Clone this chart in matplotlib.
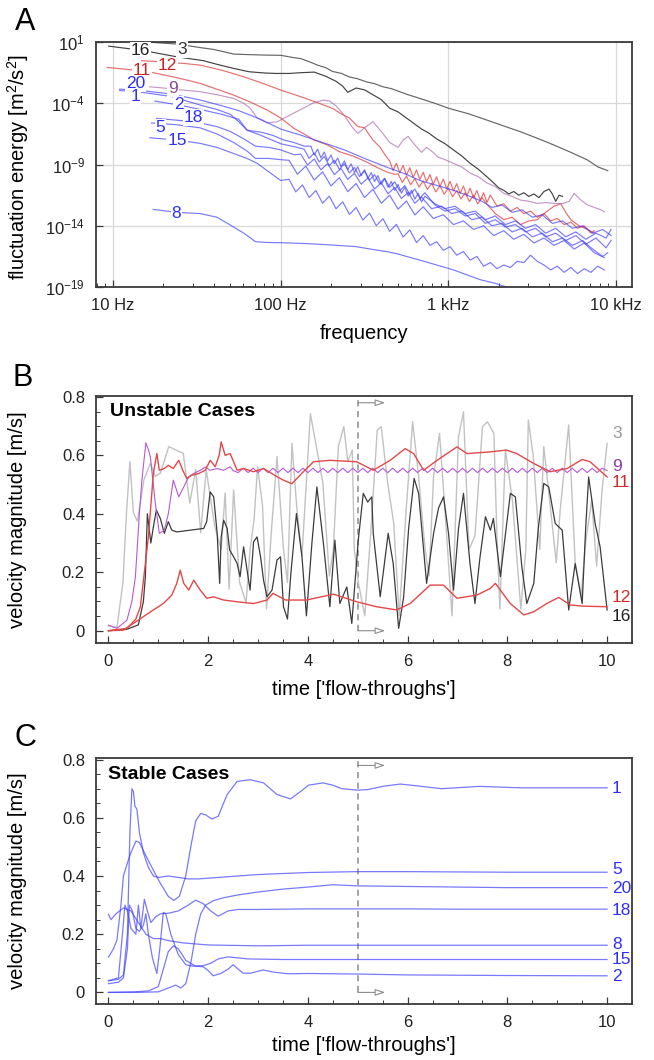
import matplotlib
matplotlib.use('Agg')
import matplotlib.pyplot as plt
from matplotlib.ticker import NullLocator, NullFormatter, LogLocator, MultipleLocator
import numpy as np

plt.rcParams['font.family'] = ['Liberation Sans', 'DejaVu Sans']
plt.rcParams['mathtext.default'] = 'regular'

# ---------------- panel A : spectra  (log10 f [Hz], log10 E) ----------------
a3 = [(1.24, 0.97), (1.38, 0.84), (1.45, 0.70), (1.52, 0.55), (1.60, 0.40), (1.68, 0.15), (1.72, 0.02),
      (1.80, -0.02), (1.90, -0.06), (2.00, -0.08), (2.07, -0.25), (2.12, -0.35), (2.17, -0.60), (2.22, -0.88),
      (2.27, -1.10), (2.31, -1.40), (2.36, -1.55), (2.41, -1.85), (2.46, -2.00), (2.51, -2.24), (2.56, -2.40),
      (2.61, -2.65), (2.66, -2.80), (2.71, -3.05), (2.76, -3.30), (2.83, -3.60), (2.92, -4.00), (3.00, -4.40),
      (3.12, -4.85), (3.23, -5.37), (3.33, -5.85), (3.43, -6.32), (3.53, -6.85), (3.63, -7.41), (3.73, -8.00),
      (3.83, -8.63), (3.89, -9.18), (3.95, -9.50)]
a16 = [(0.975, 0.67), (1.10, 0.45), (1.22, 0.21), (1.38, -0.20), (1.54, -0.52), (1.63, -0.85), (1.72, -1.15),
       (1.81, -1.42), (1.90, -1.52), (1.97, -1.56), (2.05, -1.56), (2.12, -1.50), (2.20, -1.45), (2.27, -1.80),
       (2.33, -2.20), (2.37, -2.60), (2.40, -3.10), (2.45, -2.75), (2.50, -2.90), (2.55, -3.30), (2.60, -3.70),
       (2.65, -4.40), (2.70, -4.70), (2.75, -5.20), (2.80, -5.70), (2.84, -6.10), (2.88, -6.40), (2.93, -6.90),
       (2.98, -7.30), (3.03, -7.80), (3.08, -8.30), (3.13, -8.90), (3.18, -9.40), (3.23, -10.00), (3.27, -10.50),
       (3.30, -10.90), (3.33, -11.10), (3.36, -11.40), (3.39, -11.20), (3.42, -11.50), (3.45, -11.30),
       (3.48, -11.60), (3.51, -11.40), (3.54, -11.70), (3.57, -11.20), (3.60, -11.00), (3.62, -11.40),
       (3.64, -12.00), (3.66, -11.50), (3.68, -11.60)]
a12 = [(1.17, -0.52), (1.30, -0.62), (1.42, -0.74), (1.52, -0.88), (1.65, -1.30), (1.78, -1.83), (1.90, -2.40),
       (2.00, -2.92), (2.12, -3.46), (2.22, -3.95), (2.31, -4.42), (2.36, -4.85), (2.41, -5.20), (2.46, -5.90),
       (2.50, -6.00), (2.55, -7.00), (2.59, -7.54), (2.63, -8.36),
       (2.65, -8.70), (2.67, -9.49), (2.69, -8.89), (2.71, -9.68), (2.73, -9.07), (2.75, -9.86), (2.77, -9.26),
       (2.79, -10.05), (2.81, -9.44), (2.83, -10.23), (2.85, -9.63), (2.87, -10.42), (2.89, -9.81), (2.91, -10.61),
       (2.93, -10.00), (2.95, -10.79), (2.97, -10.19), (2.99, -10.98), (3.01, -10.37), (3.03, -11.16),
       (3.05, -10.56), (3.07, -11.35), (3.09, -10.75), (3.11, -11.54), (3.13, -10.93), (3.15, -11.72),
       (3.17, -11.12), (3.19, -11.91), (3.21, -11.30), (3.23, -12.09), (3.25, -11.49),
       (3.29, -12.4), (3.33, -12.2), (3.37, -12.8), (3.41, -12.5), (3.45, -13.0), (3.49, -12.8), (3.53, -13.3),
       (3.57, -13.0), (3.61, -13.6), (3.65, -13.4), (3.69, -13.9), (3.73, -13.7), (3.77, -14.2), (3.81, -14.0),
       (3.85, -14.6), (3.87, -14.4)]
a11 = [(0.965, -1.07), (1.10, -1.25), (1.24, -1.50), (1.38, -1.90), (1.52, -2.37), (1.62, -2.85), (1.72, -3.33),
       (1.82, -3.90), (1.92, -4.55), (2.00, -5.20), (2.08, -6.05), (2.14, -6.50), (2.20, -7.00), (2.28, -7.40),
       (2.35, -7.95), (2.43, -8.30), (2.51, -8.77), (2.57, -9.20), (2.63, -9.59), (2.68, -9.80),
       (2.70, -9.75), (2.725, -10.45), (2.75, -9.95), (2.775, -10.64), (2.80, -10.14), (2.825, -10.84),
       (2.85, -10.34), (2.875, -11.03), (2.90, -10.53), (2.925, -11.23), (2.95, -10.73), (2.975, -11.42),
       (3.00, -10.92), (3.025, -11.62), (3.05, -11.12), (3.075, -11.81), (3.10, -11.31), (3.125, -12.01),
       (3.15, -11.51), (3.175, -12.20), (3.20, -11.70),
       (3.24, -12.4), (3.28, -13.0), (3.33, -13.5), (3.38, -13.3), (3.43, -13.9), (3.48, -13.6), (3.53, -13.5),
       (3.58, -12.9), (3.63, -12.4), (3.67, -12.2), (3.70, -12.9), (3.73, -13.5), (3.78, -14.0), (3.83, -14.3),
       (3.87, -14.6)]
a9 = [(1.22, -2.65), (1.30, -2.75), (1.42, -2.92), (1.52, -3.05), (1.62, -3.30), (1.72, -3.60), (1.78, -4.00),
      (1.82, -4.42), (1.86, -5.20), (1.92, -5.60), (1.98, -5.50), (2.05, -5.00), (2.12, -4.50), (2.19, -4.00),
      (2.25, -3.75), (2.29, -3.80), (2.33, -4.20), (2.38, -5.00), (2.43, -6.00), (2.46, -6.45), (2.50, -6.00),
      (2.55, -5.50), (2.60, -6.30), (2.65, -7.20), (2.70, -7.60), (2.73, -7.00), (2.76, -6.70), (2.80, -7.40),
      (2.84, -8.00), (2.87, -7.60), (2.90, -7.90), (2.94, -8.40), (2.98, -8.60), (3.03, -8.90), (3.08, -9.20),
      (3.13, -9.70), (3.18, -10.00), (3.23, -10.50), (3.28, -10.80), (3.33, -11.35), (3.38, -11.60),
      (3.43, -11.90), (3.48, -12.00), (3.53, -12.17), (3.58, -12.10), (3.63, -12.17), (3.68, -12.20),
      (3.72, -12.00), (3.75, -11.35), (3.79, -11.90), (3.83, -12.30), (3.87, -12.50), (3.91, -12.70), (3.93, -12.85)]
a20 = [(1.04, -2.84), (1.20, -3.00), (1.35, -3.25), (1.52, -3.73), (1.65, -4.20), (1.75, -4.60), (1.88, -5.30),
       (2.00, -6.10), (2.12, -6.60), (2.25, -7.20), (2.38, -7.80), (2.50, -8.50), (2.63, -9.20), (2.75, -9.80),
       (2.83, -10.30), (2.93, -10.70), (3.03, -11.10), (3.13, -11.60), (3.20, -12.00), (3.26, -12.50),
       (3.32, -12.30), (3.38, -12.90), (3.44, -12.70), (3.50, -13.30), (3.56, -13.10), (3.62, -13.80),
       (3.68, -13.60), (3.74, -14.20), (3.80, -14.00), (3.86, -14.60), (3.92, -14.30), (3.97, -14.80)]
a1 = [(1.04, -2.95), (1.20, -3.15), (1.35, -3.45), (1.52, -4.14), (1.62, -4.50), (1.70, -4.90), (1.75, -5.50),
      (1.80, -6.20), (1.88, -6.35), (1.95, -6.60), (2.02, -7.00), (2.08, -7.20), (2.14, -7.50),
      (2.18, -7.50), (2.20, -8.22), (2.22, -7.74), (2.24, -8.46), (2.26, -7.98), (2.28, -8.70), (2.30, -8.22),
      (2.32, -8.94), (2.34, -8.46), (2.36, -9.18), (2.38, -8.70), (2.40, -9.42), (2.42, -8.94), (2.44, -9.66),
      (2.46, -9.18), (2.48, -9.90), (2.50, -9.42), (2.52, -10.14), (2.54, -9.66), (2.56, -10.38), (2.58, -9.90),
      (2.60, -10.62), (2.62, -10.14), (2.64, -10.86), (2.66, -10.38), (2.68, -11.10), (2.70, -10.62),
      (2.72, -11.34), (2.74, -10.86), (2.76, -11.58), (2.78, -11.10), (2.80, -11.82), (2.82, -11.34),
      (2.84, -12.06), (2.86, -11.58),
      (2.92, -12.2), (2.98, -12.6), (3.04, -12.4), (3.10, -13.0), (3.16, -12.8), (3.22, -13.5), (3.28, -13.2),
      (3.34, -13.9), (3.40, -13.6), (3.46, -14.2), (3.52, -13.9), (3.58, -14.6), (3.64, -14.2), (3.70, -14.9),
      (3.76, -14.5), (3.82, -15.1), (3.88, -14.6), (3.94, -15.0), (3.97, -14.3)]
a2 = [(1.25, -3.82), (1.40, -4.15), (1.52, -4.50), (1.65, -4.90), (1.75, -5.30), (1.80, -6.20), (1.88, -6.60),
      (2.00, -7.30), (2.10, -7.60),
      (2.14, -7.75), (2.17, -8.50), (2.20, -8.05), (2.23, -8.79), (2.26, -8.34), (2.29, -9.09), (2.32, -8.64),
      (2.35, -9.39), (2.38, -8.93), (2.41, -9.68), (2.44, -9.23), (2.47, -9.98), (2.50, -9.53), (2.53, -10.27),
      (2.56, -9.82), (2.59, -10.57), (2.62, -10.12), (2.65, -10.86), (2.68, -10.41), (2.71, -11.16),
      (2.74, -10.71), (2.77, -11.45), (2.80, -11.00), (2.83, -11.75), (2.86, -11.30),
      (2.92, -12.3), (2.98, -12.8), (3.04, -12.6), (3.10, -13.2), (3.16, -13.0), (3.22, -13.8), (3.28, -13.5),
      (3.34, -14.1), (3.40, -13.9), (3.46, -14.5), (3.52, -14.2), (3.58, -14.9), (3.64, -14.6), (3.70, -15.2),
      (3.76, -14.8), (3.82, -15.5), (3.88, -15.0), (3.94, -15.8), (3.97, -15.2)]
a18 = [(1.26, -5.23), (1.40, -5.40), (1.52, -5.60), (1.62, -5.90), (1.70, -6.30), (1.78, -6.90), (1.85, -7.50),
       (1.93, -7.60), (2.00, -7.80), (2.08, -8.20),
       (2.12, -8.15), (2.16, -9.04), (2.20, -8.54), (2.24, -9.43), (2.28, -8.93), (2.32, -9.82), (2.36, -9.32),
       (2.40, -10.21), (2.44, -9.71), (2.48, -10.60), (2.52, -10.10), (2.56, -10.99), (2.60, -10.49),
       (2.64, -11.38), (2.68, -10.88), (2.72, -11.77), (2.76, -11.27), (2.80, -12.16), (2.84, -11.66),
       (2.90, -12.6), (2.96, -12.4), (3.02, -13.0), (3.08, -12.8), (3.14, -13.5), (3.20, -13.3), (3.26, -14.0),
       (3.32, -13.8), (3.38, -14.5), (3.44, -14.2), (3.50, -14.9), (3.56, -14.6), (3.62, -15.3), (3.68, -15.0),
       (3.74, -15.6), (3.80, -15.2), (3.86, -15.9), (3.92, -16.5), (3.95, -16.2)]
a5 = [(1.23, -5.60), (1.38, -5.75), (1.52, -6.00), (1.62, -6.50), (1.72, -7.20), (1.80, -7.90), (1.85, -8.50),
      (1.93, -8.50), (2.00, -8.60),
      (2.05, -8.65), (2.10, -9.79), (2.15, -9.12), (2.20, -10.26), (2.25, -9.60), (2.30, -10.74), (2.35, -10.07),
      (2.40, -11.21), (2.45, -10.55), (2.50, -11.69), (2.55, -11.02), (2.60, -12.16), (2.65, -11.50),
      (2.70, -12.64), (2.75, -11.97), (2.80, -13.11), (2.85, -12.45),
      (2.91, -13.4), (2.97, -13.1), (3.03, -13.9), (3.09, -13.6), (3.15, -14.3), (3.21, -14.0), (3.27, -14.8),
      (3.33, -14.4), (3.39, -15.1), (3.45, -14.7), (3.51, -15.4), (3.57, -15.0), (3.63, -15.6), (3.69, -15.2),
      (3.75, -15.9), (3.81, -15.4), (3.87, -16.2), (3.93, -16.6)]
a15 = [(1.22, -6.81), (1.38, -7.00), (1.52, -7.27), (1.62, -7.60), (1.72, -8.10), (1.80, -8.50), (1.86, -8.90),
       (1.93, -9.60), (2.00, -10.30),
       (2.05, -10.20), (2.09, -11.23), (2.13, -10.66), (2.17, -11.69), (2.21, -11.12), (2.25, -12.15),
       (2.29, -11.58), (2.33, -12.61), (2.37, -12.04), (2.41, -13.07), (2.45, -12.50), (2.49, -13.53),
       (2.53, -12.96), (2.57, -13.99), (2.61, -13.42), (2.65, -14.45), (2.69, -13.88), (2.73, -14.91),
       (2.77, -14.34), (2.81, -15.37), (2.85, -14.80),
       (2.89, -15.6), (2.93, -15.3), (2.97, -16.0), (3.01, -15.7), (3.05, -16.4), (3.09, -16.1), (3.13, -16.8),
       (3.17, -16.5), (3.21, -17.3), (3.25, -17.0), (3.29, -17.5), (3.33, -17.2), (3.37, -17.4), (3.41, -16.9),
       (3.45, -17.0), (3.49, -16.4), (3.53, -16.9), (3.57, -17.2), (3.61, -17.6), (3.65, -17.3), (3.69, -17.8),
       (3.73, -17.4), (3.77, -17.9), (3.81, -17.5), (3.85, -17.8), (3.89, -17.3), (3.93, -17.6)]
a8 = [(1.24, -12.66), (1.38, -12.90), (1.52, -13.00), (1.62, -13.30), (1.70, -13.94), (1.78, -14.60),
      (1.85, -15.30), (1.92, -15.36), (2.00, -15.38), (2.15, -15.45), (2.31, -15.57), (2.45, -15.70),
      (2.51, -15.84), (2.58, -16.00), (2.63, -16.10), (2.70, -16.30), (2.75, -16.50), (2.83, -16.80),
      (2.93, -17.20), (3.03, -17.60), (3.11, -18.00), (3.19, -18.40), (3.28, -18.70), (3.37, -19.10)]

# label positions (log10 f, log10 E)
a_labels = [('16', 1.164, 0.35), ('3', 1.412, 0.40), ('12', 1.323, -0.88), ('11', 1.174, -1.29),
            ('20', 1.134, -2.37), ('9', 1.358, -2.78), ('1', 1.134, -3.46), ('2', 1.392, -4.06),
            ('18', 1.482, -5.18), ('5', 1.283, -5.97), ('15', 1.382, -7.0), ('8', 1.378, -13.0)]

# ---------------- panel B : unstable cases (time, velocity) ----------------
b3 = [(0, 0.017), (0.17, 0.011), (0.29, 0.165), (0.36, 0.40), (0.43, 0.579), (0.5, 0.403), (0.58, 0.375),
      (0.71, 0.516), (0.84, 0.573), (0.94, 0.528), (1.04, 0.539), (1.21, 0.63), (1.34, 0.619), (1.5, 0.607),
      (1.63, 0.437), (1.75, 0.551), (1.85, 0.335), (1.96, 0.551), (2.13, 0.358), (2.26, 0.278), (2.34, 0.471),
      (2.42, 0.142), (2.51, 0.482), (2.63, 0.165), (2.76, 0.096), (2.84, 0.278), (2.92, 0.38), (2.99, 0.562),
      (3.09, 0.426), (3.17, 0.074), (3.26, 0.324), (3.38, 0.596), (3.51, 0.278), (3.59, 0.165), (3.68, 0.641),
      (3.78, 0.414), (3.88, 0.255), (4.05, 0.743), (4.18, 0.619), (4.3, 0.505), (4.43, 0.187), (4.51, 0.278),
      (4.61, 0.63), (4.72, 0.698), (4.8, 0.579), (4.89, 0.619), (4.93, 0.278), (5.01, 0.165), (5.14, 0.051),
      (5.26, 0.335), (5.39, 0.687), (5.47, 0.698), (5.6, 0.505), (5.72, 0.369), (5.83, 0.051), (5.97, 0.414),
      (6.1, 0.715), (6.22, 0.528), (6.35, 0.278), (6.43, 0.187), (6.52, 0.528), (6.64, 0.675), (6.77, 0.358),
      (6.89, 0.051), (7.02, 0.664), (7.12, 0.749), (7.23, 0.278), (7.35, 0.324), (7.5, 0.698), (7.6, 0.715),
      (7.73, 0.675), (7.79, 0.324), (7.85, 0.074), (7.96, 0.619), (8.1, 0.448), (8.27, 0.074), (8.37, 0.278),
      (8.42, 0.721), (8.52, 0.596), (8.65, 0.278), (8.73, 0.63), (8.86, 0.426), (8.98, 0.233), (9.06, 0.414),
      (9.23, 0.704), (9.36, 0.233), (9.48, 0.119), (9.57, 0.301), (9.69, 0.448), (9.79, 0.221), (9.9, 0.482),
      (10.0, 0.641)]
b16 = [(0, 0.0), (0.37, 0.005), (0.6, 0.02), (0.7, 0.1), (0.74, 0.185), (0.78, 0.40), (0.85, 0.30), (0.9, 0.355),
       (0.96, 0.413), (1.04, 0.384), (1.12, 0.333), (1.2, 0.373), (1.27, 0.344), (1.37, 0.338), (1.64, 0.344),
       (1.91, 0.35), (1.97, 0.373), (2.04, 0.475), (2.11, 0.458), (2.18, 0.333), (2.23, 0.162), (2.26, 0.321),
       (2.31, 0.378), (2.38, 0.35), (2.43, 0.276), (2.51, 0.253), (2.58, 0.23), (2.64, 0.185), (2.71, 0.287),
       (2.78, 0.207), (2.84, 0.139), (2.91, 0.304), (2.98, 0.321), (3.05, 0.253), (3.11, 0.173), (3.18, 0.116),
       (3.28, 0.139), (3.38, 0.242), (3.45, 0.253), (3.51, 0.082), (3.59, 0.04), (3.66, 0.2), (3.77, 0.401),
       (3.88, 0.255), (3.97, 0.051), (4.08, 0.3), (4.18, 0.492), (4.31, 0.3), (4.44, 0.082), (4.54, 0.31),
       (4.64, 0.093), (4.78, 0.15), (4.88, 0.025), (5.01, 0.31), (5.11, 0.47), (5.2, 0.44), (5.28, 0.458),
       (5.31, 0.333), (5.45, 0.116), (5.61, 0.333), (5.71, 0.23), (5.82, 0.008), (5.92, 0.116), (6.02, 0.35),
       (6.13, 0.521), (6.22, 0.47), (6.38, 0.162), (6.52, 0.333), (6.62, 0.42), (6.72, 0.458), (6.82, 0.333),
       (6.92, 0.139), (7.02, 0.35), (7.12, 0.47), (7.25, 0.23), (7.35, 0.093), (7.45, 0.25), (7.56, 0.39),
       (7.66, 0.344), (7.72, 0.384), (7.86, 0.185), (7.94, 0.3), (8.06, 0.47), (8.16, 0.458), (8.29, 0.219),
       (8.39, 0.093), (8.53, 0.162), (8.62, 0.35), (8.73, 0.504), (8.83, 0.492), (8.96, 0.367), (9.1, 0.344),
       (9.23, 0.071), (9.36, 0.23), (9.5, 0.093), (9.57, 0.35), (9.63, 0.526), (9.76, 0.367), (9.86, 0.287),
       (10.0, 0.071)]
b9_start = [(0, 0.019), (0.17, 0.008), (0.37, 0.036), (0.47, 0.1), (0.54, 0.185), (0.62, 0.4), (0.67, 0.515),
            (0.75, 0.643), (0.8, 0.62), (0.84, 0.595), (0.94, 0.435), (1.02, 0.333), (1.12, 0.344), (1.2, 0.40),
            (1.3, 0.515), (1.41, 0.458), (1.51, 0.492), (1.61, 0.527), (1.71, 0.538), (1.84, 0.549),
            (1.94, 0.56), (2.04, 0.549), (2.18, 0.555), (2.31, 0.549), (2.44, 0.561)]
b9_wave_t = np.round(np.arange(2.5, 10.05, 0.1), 2)
b9_wave_v = [0.548, 0.541, 0.556, 0.541, 0.556, 0.541, 0.556, 0.541, 0.556, 0.541,
             0.556, 0.541, 0.556, 0.541, 0.556, 0.541, 0.556, 0.541, 0.556, 0.541,
             0.556, 0.541, 0.556, 0.541, 0.556, 0.541, 0.556, 0.541, 0.556, 0.541,
             0.556, 0.541, 0.556, 0.541, 0.556, 0.541, 0.556, 0.541, 0.556, 0.541,
             0.556, 0.541, 0.556, 0.541, 0.556, 0.541, 0.556, 0.541, 0.556, 0.541,
             0.556, 0.541, 0.556, 0.541, 0.556, 0.541, 0.556, 0.541, 0.556, 0.541,
             0.556, 0.541, 0.556, 0.541, 0.556, 0.541, 0.556, 0.541, 0.556, 0.541,
             0.556, 0.541, 0.556, 0.541, 0.556, 0.548]
b11 = [(0, 0.0), (0.37, 0.008), (0.55, 0.04), (0.64, 0.082), (0.72, 0.2), (0.8, 0.321), (0.86, 0.45), (0.9, 0.538),
       (0.97, 0.606), (1.02, 0.549), (1.12, 0.555), (1.2, 0.566), (1.3, 0.555), (1.41, 0.583), (1.49, 0.549),
       (1.57, 0.521), (1.67, 0.532), (1.81, 0.538), (1.94, 0.549), (2.04, 0.583), (2.14, 0.561), (2.22, 0.6),
       (2.26, 0.646), (2.34, 0.60), (2.44, 0.606), (2.51, 0.578), (2.58, 0.549), (2.71, 0.555), (2.91, 0.544),
       (3.11, 0.555), (3.38, 0.527), (3.51, 0.515), (3.68, 0.503), (3.84, 0.532), (4.11, 0.578), (4.44, 0.583),
       (4.98, 0.578), (5.31, 0.549), (5.65, 0.583), (5.95, 0.623), (6.12, 0.606), (6.32, 0.549), (6.59, 0.583),
       (6.99, 0.629), (7.19, 0.606), (7.66, 0.612), (7.98, 0.618), (8.19, 0.606), (8.53, 0.572), (8.86, 0.544),
       (9.2, 0.555), (9.5, 0.586), (9.66, 0.578), (10.0, 0.526)]
b12 = [(0, 0.0), (0.3, 0.002), (0.5, 0.025), (0.7, 0.048), (0.9, 0.071), (1.1, 0.093), (1.27, 0.122), (1.37, 0.162),
       (1.44, 0.207), (1.51, 0.162), (1.61, 0.139), (1.71, 0.173), (1.84, 0.139), (1.97, 0.111), (2.11, 0.116),
       (2.31, 0.105), (2.58, 0.099), (2.91, 0.093), (3.18, 0.105), (3.3, 0.128), (3.55, 0.105), (3.97, 0.105),
       (4.51, 0.125), (4.98, 0.099), (5.38, 0.082), (5.78, 0.071), (6.05, 0.093), (6.45, 0.156), (6.72, 0.156),
       (6.99, 0.111), (7.39, 0.122), (7.66, 0.145), (7.76, 0.162), (7.98, 0.111), (8.06, 0.093), (8.33, 0.054),
       (8.53, 0.065), (8.79, 0.093), (9.03, 0.114), (9.26, 0.088), (9.53, 0.084), (10.0, 0.082)]
b_labels = [('3', 0.676, '#9a9a9a'), ('9', 0.563, '#8a3aa0'), ('11', 0.508, '#d42a2a'),
            ('12', 0.112, '#d42a2a'), ('16', 0.050, '#202020')]

# ---------------- panel C : stable cases (time, velocity) ----------------
c1 = [(0, 0.121), (0.1, 0.15), (0.17, 0.18), (0.25, 0.30), (0.3, 0.40), (0.37, 0.44), (0.45, 0.48), (0.55, 0.52),
      (0.62, 0.515), (0.75, 0.47), (0.9, 0.42), (1.04, 0.375), (1.2, 0.33), (1.31, 0.316), (1.42, 0.33),
      (1.55, 0.40), (1.65, 0.50), (1.75, 0.59), (1.85, 0.615), (1.95, 0.61), (2.07, 0.596), (2.2, 0.605),
      (2.38, 0.68), (2.58, 0.725), (2.84, 0.731), (3.11, 0.72), (3.38, 0.68), (3.65, 0.665), (3.85, 0.69),
      (4.01, 0.712), (4.3, 0.72), (4.5, 0.712), (4.68, 0.70), (5.0, 0.695), (5.2, 0.697), (5.5, 0.708),
      (5.85, 0.716), (6.18, 0.71), (6.68, 0.70), (7.44, 0.708), (8.27, 0.703), (9.1, 0.703), (10.0, 0.703)]
c5 = [(0, 0.04), (0.2, 0.045), (0.3, 0.06), (0.38, 0.2), (0.43, 0.55), (0.47, 0.70), (0.5, 0.69), (0.53, 0.64),
      (0.57, 0.63), (0.62, 0.55), (0.7, 0.48), (0.8, 0.43), (0.9, 0.40), (1.0, 0.395), (1.2, 0.40), (1.4, 0.395),
      (1.6, 0.39), (1.8, 0.39), (2.2, 0.395), (3.0, 0.405), (4.0, 0.412), (5.0, 0.415), (6.0, 0.415),
      (7.0, 0.414), (8.0, 0.413), (9.0, 0.413), (10.0, 0.413)]
c20 = [(0, 0.0), (0.6, 0.0), (1.0, 0.002), (1.2, 0.015), (1.35, 0.025), (1.45, 0.015), (1.55, 0.03), (1.65, 0.10),
       (1.75, 0.2), (1.85, 0.27), (1.95, 0.3), (2.1, 0.315), (2.3, 0.325), (2.6, 0.335), (3.0, 0.345),
       (3.5, 0.355), (4.0, 0.362), (4.5, 0.37), (5.0, 0.366), (6.0, 0.364), (7.0, 0.362), (8.0, 0.36),
       (9.0, 0.36), (10.0, 0.36)]
c18 = [(0, 0.04), (0.1, 0.045), (0.2, 0.05), (0.28, 0.2), (0.33, 0.30), (0.38, 0.28), (0.45, 0.22), (0.55, 0.2),
       (0.6, 0.30), (0.65, 0.22), (0.72, 0.32), (0.78, 0.28), (0.85, 0.24), (0.95, 0.26), (1.04, 0.27),
       (1.2, 0.272), (1.4, 0.28), (1.6, 0.30), (1.75, 0.317), (1.9, 0.305), (2.05, 0.28), (2.2, 0.262),
       (2.4, 0.28), (2.6, 0.285), (3.0, 0.285), (4.0, 0.287), (5.0, 0.287), (6.0, 0.287), (7.0, 0.286),
       (8.0, 0.286), (9.0, 0.286), (10.0, 0.286)]
c8 = [(0, 0.268), (0.05, 0.25), (0.15, 0.27), (0.3, 0.29), (0.45, 0.28), (0.6, 0.24), (0.75, 0.2), (0.9, 0.185),
      (1.04, 0.185), (1.2, 0.178), (1.5, 0.17), (2.0, 0.163), (3.0, 0.16), (4.0, 0.162), (6.0, 0.162),
      (8.0, 0.162), (10.0, 0.162)]
c15 = [(0, 0.03), (0.2, 0.035), (0.3, 0.05), (0.38, 0.15), (0.42, 0.30), (0.48, 0.28), (0.55, 0.22), (0.62, 0.21),
       (0.7, 0.23), (0.75, 0.27), (0.8, 0.2), (0.88, 0.12), (0.97, 0.065), (1.03, 0.15), (1.1, 0.275),
       (1.15, 0.27), (1.25, 0.2), (1.4, 0.13), (1.55, 0.095), (1.7, 0.09), (1.9, 0.092), (2.05, 0.1),
       (2.2, 0.115), (2.4, 0.122), (2.8, 0.115), (3.5, 0.113), (5.0, 0.113), (7.0, 0.113), (10.0, 0.113)]
c2 = [(0, 0.0), (0.5, 0.002), (0.8, 0.005), (1.0, 0.02), (1.1, 0.08), (1.2, 0.14), (1.3, 0.16), (1.4, 0.15),
      (1.55, 0.11), (1.75, 0.09), (1.9, 0.088), (2.0, 0.075), (2.1, 0.057), (2.25, 0.065), (2.4, 0.08),
      (2.5, 0.095), (2.6, 0.08), (2.7, 0.066), (2.85, 0.066), (3.1, 0.077), (3.3, 0.07), (3.6, 0.064),
      (4.0, 0.065), (5.0, 0.063), (6.0, 0.06), (8.0, 0.058), (10.0, 0.057)]
c_labels = [('1', 0.70), ('5', 0.421), ('20', 0.357), ('18', 0.282), ('8', 0.164), ('15', 0.113), ('2', 0.055)]

BLUE = '#4040ff'
BLUE_TXT = '#2e2eff'
RED = '#e03030'
RED_TXT = '#cc2222'
FRAME = '#3a3a3a'


def unzip(pts):
    arr = np.array(pts, dtype=float)
    return arr[:, 0], arr[:, 1]


fig = plt.figure(figsize=(6.54, 10.6), dpi=100)
axA = fig.add_axes([0.1468, 0.7292, 0.8196, 0.2311])
axB = fig.add_axes([0.1468, 0.3934, 0.8196, 0.2330])
axC = fig.add_axes([0.1468, 0.0528, 0.8196, 0.2321])

for ax in (axA, axB, axC):
    for s in ax.spines.values():
        s.set_color(FRAME)
        s.set_linewidth(1.3)
    ax.tick_params(which='both', direction='in', colors=FRAME, labelcolor='#222222', labelsize=12,
                   top=False, right=False)
    ax.tick_params(which='major', length=5, width=0.9, pad=8)
    ax.tick_params(which='minor', length=3, width=0.7)

# ---- A ----
a_series = [(a3, '#555555', 0.9), (a16, '#2e2e2e', 0.9), (a12, RED, 0.7), (a11, RED, 0.7), (a9, '#a860a8', 0.65),
            (a20, BLUE, 0.7), (a1, BLUE, 0.7), (a2, BLUE, 0.7), (a18, BLUE, 0.7), (a5, BLUE, 0.7),
            (a15, BLUE, 0.7), (a8, BLUE, 0.7)]
for pts, col, al in a_series:
    lf, le = unzip(pts)
    axA.plot(10 ** lf, 10 ** le, color=col, alpha=al, lw=0.85)

a_txt_col = {'16': '#222222', '3': '#333333', '12': RED_TXT, '11': RED_TXT, '9': '#8b4a8b'}
for lab, x, y in a_labels:
    axA.text(10 ** x, 10 ** y, lab, color=a_txt_col.get(lab, BLUE_TXT), fontsize=12.5, ha='center',
             va='center', bbox=dict(boxstyle='square,pad=0.05', fc='white', ec='none'), zorder=5)

axA.set_xscale('log')
axA.set_yscale('log')
axA.set_xlim(10 ** 0.899, 10 ** 4.095)
axA.set_ylim(1e-19, 1e1)
axA.set_xticks([10, 100, 1000, 10000])
axA.set_xticklabels(['10 Hz', '100 Hz', '1 kHz', '10 kHz'])
axA.xaxis.set_minor_locator(LogLocator(base=10, subs=range(2, 10)))
axA.xaxis.set_minor_formatter(NullFormatter())
axA.set_yticks([1e1, 1e-4, 1e-9, 1e-14, 1e-19])
axA.set_yticklabels(['10$^{1}$', '10$^{-4}$', '10$^{-9}$', '10$^{-14}$', '10$^{-19}$'])
axA.yaxis.set_minor_locator(NullLocator())
axA.grid(True, which='major', color='#d8d8d8', lw=0.9)
axA.set_axisbelow(True)
axA.set_xlabel('frequency', fontsize=14.5)
axA.xaxis.set_label_coords(0.5, -0.15)
axA.set_ylabel('fluctuation energy [m$^2$/s$^2$]', fontsize=14.5)
axA.yaxis.set_label_coords(-0.122, 0.49)


def time_axes(ax, ylo, yhi):
    ax.set_xlim(-0.25, 10.5)
    ax.set_ylim(ylo, yhi)
    ax.xaxis.set_minor_locator(MultipleLocator(0.5))
    ax.yaxis.set_minor_locator(MultipleLocator(0.05))
    ax.set_yticks([0, 0.2, 0.4, 0.6, 0.8])
    ax.set_yticklabels(['0', '0.2', '0.4', '0.6', '0.8'])
    ax.set_xticks([0, 2, 4, 6, 8, 10])
    ax.set_xticklabels(['0', '2', '4', '6', '8', '10'])
    ax.set_xlabel("time ['flow-throughs']", fontsize=14.5)
    ax.set_ylabel('velocity magnitude [m/s]', fontsize=14.5)
    ax.yaxis.set_label_coords(-0.128, 0.5)
    # restart marker
    ax.plot([5, 5], [0, yhi], color='#8c8c8c', lw=1.1, ls=(0, (4, 3)), zorder=1)
    for yy in (0.78, 0.0):
        ax.annotate('', xy=(5.55, yy), xytext=(5.0, yy),
                    arrowprops=dict(arrowstyle='-|>,head_length=0.6,head_width=0.2', color='#8c8c8c',
                                    fc='white', lw=0.8, shrinkA=0, shrinkB=0))


# ---- B ----
time_axes(axB, -0.042, 0.803)
axB.xaxis.set_label_coords(0.5, -0.15)
t, v = unzip(b3)
axB.plot(t, v, color='#c2c2c2', lw=1.0)
t, v = unzip(b16)
axB.plot(t, v, color='#3c3c3c', lw=0.9)
t, v = unzip(b9_start)
t9 = np.concatenate([t, b9_wave_t[:len(b9_wave_v)]])
v9 = np.concatenate([v, b9_wave_v])
axB.plot(t9, v9, color='#b45ad2', lw=0.8)
t, v = unzip(b11)
axB.plot(t, v, color='#e44848', lw=1.0)
t, v = unzip(b12)
axB.plot(t, v, color='#e44848', lw=1.0)
for lab, y, col in b_labels:
    axB.text(10.1, y, lab, color=col, fontsize=12.5, ha='left', va='center')
axB.text(0.03, 0.75, 'Unstable Cases', fontsize=14, fontweight='bold', ha='left', va='center')

# ---- C ----
time_axes(axC, -0.040, 0.8055)
axC.xaxis.set_label_coords(0.5, -0.13)
for pts in (c1, c5, c20, c18, c8, c15, c2):
    t, v = unzip(pts)
    axC.plot(t, v, color=BLUE, alpha=0.7, lw=0.9)
for lab, y in c_labels:
    axC.text(10.1, y, lab, color=BLUE_TXT, fontsize=12.5, ha='left', va='center')
axC.text(0.0, 0.748, 'Stable Cases', fontsize=14, fontweight='bold', ha='left', va='center')

# panel letters
fig.text(25 / 654, 1 - 22 / 1060, 'A', fontsize=22, ha='center', va='center')
fig.text(23 / 654, 1 - 378 / 1060, 'B', fontsize=22, ha='center', va='center')
fig.text(25 / 654, 1 - 738 / 1060, 'C', fontsize=22, ha='center', va='center')

fig.savefig('out.png', dpi=100)
